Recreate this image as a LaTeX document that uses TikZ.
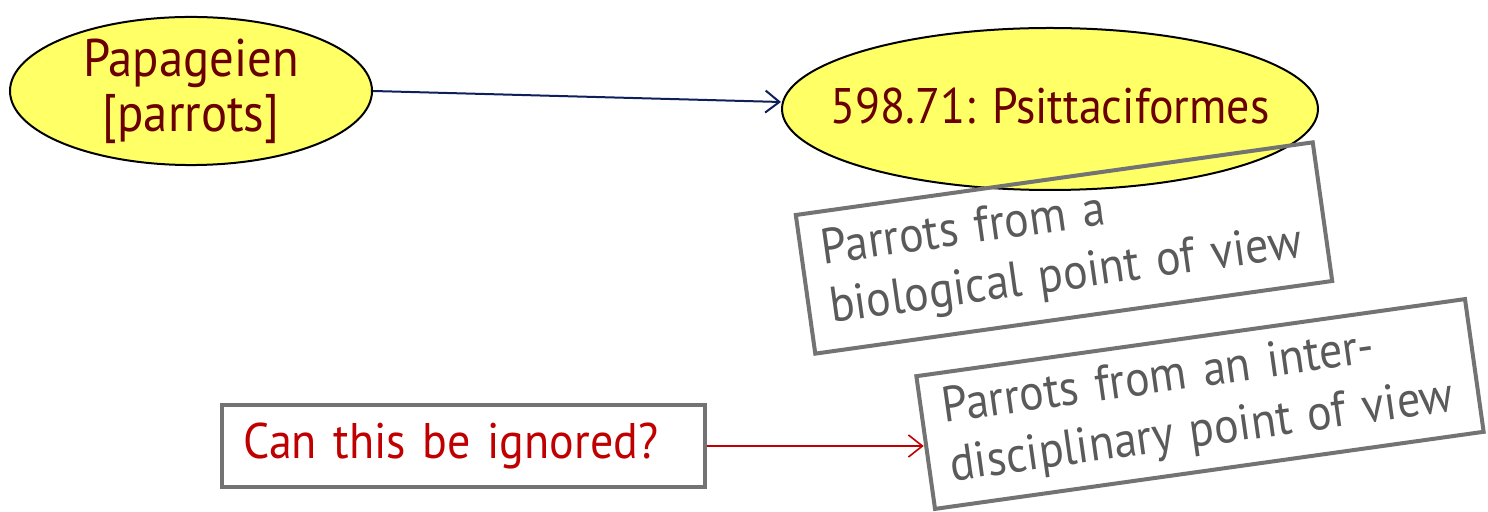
\documentclass[tikz,border=0pt]{standalone}
\usepackage{fontspec}
\setmainfont{PT Sans}[FakeStretch=0.92]
\usetikzlibrary{arrows.meta,shapes.geometric,calc}
\definecolor{topicfill}{HTML}{FFFF66}
\definecolor{topictext}{HTML}{6B0000}
\definecolor{linknavy}{HTML}{0F1F5C}
\definecolor{notegray}{HTML}{5A5A5A}
\definecolor{framegray}{HTML}{737373}
\definecolor{askred}{HTML}{C00000}
\newcommand{\tight}[1]{\makebox[0pt]{#1}}
\tikzset{
  topic/.style={ellipse, draw=black, line width=1pt, fill=topicfill, inner sep=0pt,
    text=topictext, align=center},
  note/.style={rectangle, draw=framegray, line width=2pt, inner sep=0pt,
    text=notegray, font=\fontsize{25}{29.5}\selectfont, align=left},
  barb/.style={-{Straight Barb[length=7pt,width=11pt]}},
}
\begin{document}
\begin{tikzpicture}[x=0.5pt,y=-0.5pt]
\useasboundingbox (0,0) rectangle (1488,512);
% subject heading and class number
\node[topic, minimum width=181pt, minimum height=69pt,
  font=\fontsize{26.5}{27.5}\selectfont] (papa) at (191,91)
  {\tight{Papageien}\\\tight{[parrots]}};
\node[topic, minimum width=268pt, minimum height=81pt,
  font=\fontsize{25}{28}\selectfont] (psit) at (1050,109)
  {\tight{\raisebox{3pt}{598.71: Psittaciformes}}};
\draw[barb, draw=linknavy, line width=1pt] (papa.east) -- ($(psit.west)+(0,-7)$);
% tilted notes
\node[note, rotate=8, minimum width=261pt, minimum height=70pt, text width=240pt]
  (bio) at (1064,248) {Parrots from a\\biological point of view};
\node[note, rotate=8, minimum width=277pt, minimum height=67pt, text width=256pt]
  (inter) at (1200,404) {Parrots from an inter-\\disciplinary point of view};
% question
\node[note, minimum width=241.5pt, minimum height=41pt, text width=220pt,
  text=askred, font=\fontsize{25}{28}\selectfont] (ask) at (463.5,446)
  {Can this be ignored?};
\draw[barb, draw=askred, line width=0.8pt] (ask.east) -- (ask.east -| inter.west);
\end{tikzpicture}
\end{document}
